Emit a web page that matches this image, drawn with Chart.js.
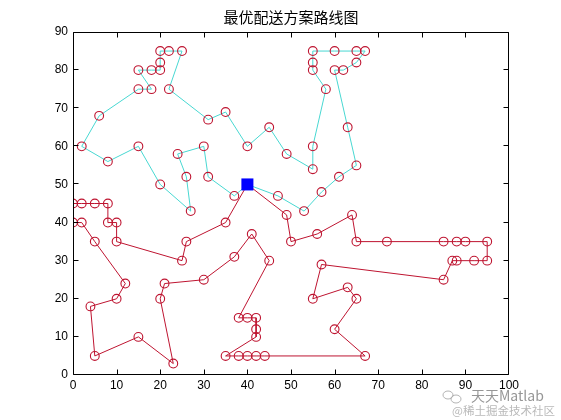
<!DOCTYPE html>
<html><head><meta charset="utf-8">
<script src="https://cdn.jsdelivr.net/npm/chart.js@4/dist/chart.umd.min.js"></script>
<style>html,body{margin:0;padding:0;background:#fff;}canvas{display:block;}</style>
</head><body>
<canvas id="c" width="561" height="420"></canvas>
<script>
const titleText = '最优配送方案路线图';
const watermark1 = '天天Matlab';
const watermark2 = '@稀土掘金技术社区';
const depotX = [40];
const depotY = [50];
const route1X = [40,37,31,30,24,26,27,20,15,8,2,6,15,18,15,18,20,20,20,22,25,22,31,35,40,45,49,55,55,58,55,55,55,60,65,67,65,62,60,63,65,61,57,53,47,40];
const route1Y = [50,47,52,60,58,52,43,50,60,56,60,68,75,75,80,80,80,82,85,85,85,75,67,69,60,65,58,54,60,75,80,82,85,85,85,85,82,80,80,65,55,52,48,43,47,50];
const route2X = [40,35,26,25,10,10,8,8,5,2,0,0,2,5,12,10,4,5,15,23,20,21,30,37,41,45,38,40,42,42,42,35,38,40,42,44,67,60,65,63,55,57,85,87,88,92,95,95,90,88,85,72,65,64,56,50,49,40];
const route2Y = [50,40,35,30,35,40,40,45,45,45,45,40,40,35,24,20,18,5,10,3,20,24,25,31,37,30,15,15,15,12,10,5,5,5,5,5,5,12,20,23,20,29,25,30,30,30,30,35,35,35,35,35,35,42,37,35,42,50];
const xTickValues = [0,10,20,30,40,50,60,70,80,90,100];
const yTickValues = [0,10,20,30,40,50,60,70,80,90];

const toPts = (xs, ys) => xs.map((v, i) => ({x: v, y: ys[i]}));
const RED = 'rgb(190,20,48)';
const CYAN = 'rgb(72,216,210)';

const framePlugin = {
  id: 'frame',
  afterDatasetsDraw(chart) {
    const {ctx, chartArea: a, scales: {x, y}} = chart;
    ctx.save();
    ctx.strokeStyle = '#000';
    ctx.lineWidth = 1;
    const L = Math.round(a.left) + 0.5, R = Math.round(a.right) - 0.5;
    const T = Math.round(a.top) + 0.5, B = Math.round(a.bottom) - 0.5;
    ctx.beginPath();
    ctx.rect(L, T, R - L, B - T);
    const len = 5;
    x.ticks.forEach(t => {
      let px = Math.round(x.getPixelForValue(t.value)) + 0.5;
      px = Math.min(Math.max(px, L), R);
      ctx.moveTo(px, B); ctx.lineTo(px, B - len);
      ctx.moveTo(px, T); ctx.lineTo(px, T + len);
    });
    y.ticks.forEach(t => {
      let py = Math.round(y.getPixelForValue(t.value)) - 0.5;
      py = Math.min(Math.max(py, T), B);
      ctx.moveTo(L, py); ctx.lineTo(L + len, py);
      ctx.moveTo(R, py); ctx.lineTo(R - len, py);
    });
    ctx.stroke();
    ctx.restore();
  },
  afterDraw(chart) {
    const ctx = chart.ctx;
    ctx.save();
    ctx.strokeStyle = 'rgba(160,160,160,0.8)';
    ctx.lineWidth = 1;
    ctx.beginPath(); ctx.ellipse(448, 395, 5, 4, 0, 0, Math.PI * 2); ctx.stroke();
    ctx.beginPath(); ctx.ellipse(456, 399, 5, 4, 0, 0, Math.PI * 2); ctx.stroke();
    ctx.font = '14px "Noto Sans CJK SC", "Liberation Sans", sans-serif';
    ctx.textBaseline = 'middle';
    ctx.textAlign = 'left';
    ctx.fillStyle = 'rgb(150,150,150)';
    ctx.fillText(watermark1, 471, 396);
    ctx.font = '11.5px "Noto Sans CJK SC", sans-serif';
    ctx.fillStyle = 'rgb(185,185,185)';
    ctx.fillText(watermark2, 452, 411);
    ctx.restore();
  }
};

new Chart(document.getElementById('c'), {
  type: 'scatter',
  data: {
    datasets: [
      {
        data: toPts(depotX, depotY),
        pointStyle: 'rect', pointRadius: 8.5, pointHoverRadius: 8.5,
        pointBackgroundColor: 'rgb(0,0,255)', pointBorderColor: 'rgb(0,0,255)', pointBorderWidth: 0,
        showLine: false, order: 0
      },
      {
        data: toPts(route1X, route1Y), showLine: true,
        borderColor: CYAN, borderWidth: 1,
        pointStyle: 'circle', pointRadius: 4.4, pointHoverRadius: 4.4,
        pointBorderColor: RED, pointBackgroundColor: 'rgba(0,0,0,0)', pointBorderWidth: 1.1,
        order: 2
      },
      {
        data: toPts(route2X, route2Y), showLine: true,
        borderColor: RED, borderWidth: 1,
        pointStyle: 'circle', pointRadius: 4.4, pointHoverRadius: 4.4,
        pointBorderColor: RED, pointBackgroundColor: 'rgba(0,0,0,0)', pointBorderWidth: 1.1,
        order: 1
      }
    ]
  },
  options: {
    responsive: false,
    animation: false,
    devicePixelRatio: 1,
    layout: {padding: {left: 0, right: 52, top: 0, bottom: 0}},
    plugins: {
      legend: {display: false},
      tooltip: {enabled: false},
      title: {
        display: true, text: titleText, fullSize: false, color: '#000',
        font: {family: '"Noto Sans CJK SC", sans-serif', size: 15, weight: 'normal', lineHeight: '18px'},
        padding: {top: 8, bottom: 6}
      }
    },
    scales: {
      x: {
        type: 'linear', min: xTickValues[0], max: xTickValues[xTickValues.length - 1],
        grid: {display: false, drawTicks: false}, border: {display: false},
        ticks: {stepSize: xTickValues[1] - xTickValues[0], color: '#000', padding: 3, maxRotation: 0,
          font: {family: '"Liberation Sans", Arial, sans-serif', size: 12}},
        afterFit: s => { s.height = 45; }
      },
      y: {
        type: 'linear', min: yTickValues[0], max: yTickValues[yTickValues.length - 1],
        grid: {display: false, drawTicks: false}, border: {display: false},
        ticks: {stepSize: yTickValues[1] - yTickValues[0], color: '#000', padding: 5,
          font: {family: '"Liberation Sans", Arial, sans-serif', size: 12}},
        afterFit: s => { s.width = 73; }
      }
    }
  },
  plugins: [framePlugin]
});
</script>
</body></html>
